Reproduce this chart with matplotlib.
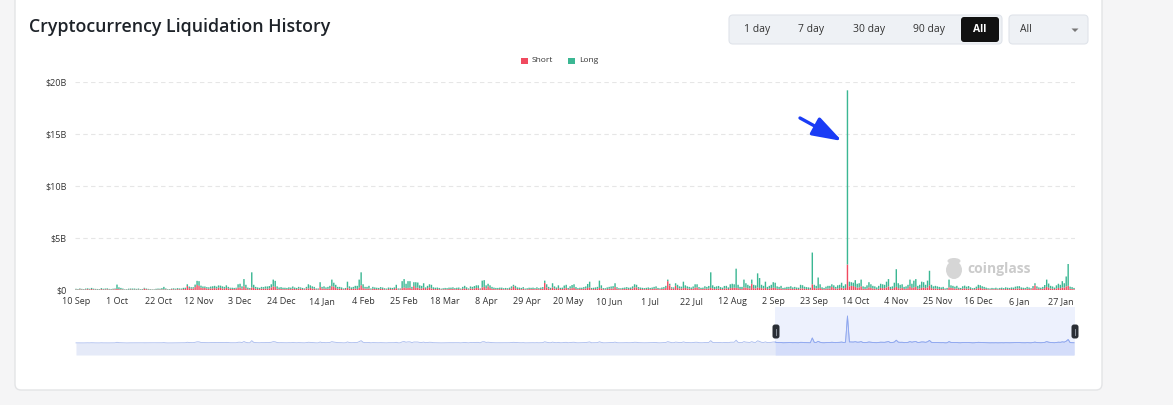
import numpy as np
import matplotlib
matplotlib.use("Agg")
import matplotlib.pyplot as plt
from matplotlib.patches import FancyBboxPatch, Rectangle, Polygon, Ellipse

# ---------------- data ----------------
start_date = "2024-09-10"
tick_labels = ["10 Sep", "1 Oct", "22 Oct", "12 Nov", "3 Dec", "24 Dec", "14 Jan",
               "4 Feb", "25 Feb", "18 Mar", "8 Apr", "29 Apr", "20 May", "10 Jun",
               "1 Jul", "22 Jul", "12 Aug", "2 Sep", "23 Sep", "14 Oct", "4 Nov",
               "25 Nov", "16 Dec", "6 Jan", "27 Jan"]
tick_step = 21
y_ticks = [0, 5, 10, 15, 20]
y_tick_labels = ["$0", "$5B", "$10B", "$15B", "$20B"]
series_names = ["Short", "Long"]
range_buttons = ["1 day", "7 day", "30 day", "90 day", "All"]
selected_range = "All"
dropdown_value = "All"
zoom_window_start = 358   # index where the data-zoom selection starts

# daily liquidations in units of $10M (one row per month)
short_vals = [
    5, 4, 7, 5, 4, 6, 8, 5, 9, 6, 5, 4, 4, 8, 5, 6, 7, 5, 4, 6, 7,                          # Sep 24
    10, 8, 6, 5, 3, 3, 4, 6, 4, 5, 4, 5, 3, 4, 14, 8, 5, 4, 3, 3, 4, 5, 5, 6, 5, 6, 3, 4, 8, 6, 5,  # Oct
    8, 7, 6, 9, 10, 38, 18, 15, 14, 28, 48, 40, 22, 18, 20, 14, 12, 15, 16, 18, 14, 22, 20, 15, 12, 20, 14, 12, 10, 9,  # Nov
    12, 22, 25, 14, 35, 18, 8, 7, 25, 20, 12, 10, 9, 13, 12, 14, 12, 16, 25, 35, 30, 12, 8, 10, 8, 9, 8, 10, 9, 14, 10,  # Dec
    9, 14, 12, 9, 7, 16, 15, 20, 14, 12, 7, 6, 28, 14, 14, 11, 12, 14, 36, 32, 20, 12, 12, 10, 7, 9, 22, 14, 10, 12, 15,  # Jan 25
    10, 22, 45, 18, 14, 12, 15, 5, 12, 10, 9, 8, 12, 10, 7, 6, 10, 9, 8, 10, 18, 5, 6, 18, 25, 18, 20, 22,  # Feb
    12, 38, 20, 22, 15, 14, 22, 10, 18, 25, 15, 10, 9, 10, 8, 6, 7, 8, 7, 10, 9, 12, 8, 9, 10, 6, 12, 15, 10, 6, 14,  # Mar
    12, 14, 20, 18, 6, 25, 30, 16, 35, 20, 12, 10, 8, 8, 9, 10, 7, 8, 7, 9, 15, 35, 18, 10, 9, 8, 12, 6, 7, 9,  # Apr
    9, 10, 8, 12, 8, 10, 12, 68, 25, 12, 9, 25, 15, 10, 18, 9, 10, 15, 20, 8, 14, 18, 22, 10, 8, 10, 9, 12, 14, 20, 25,  # May
    8, 9, 10, 12, 20, 15, 8, 7, 10, 12, 14, 15, 28, 12, 8, 7, 9, 10, 12, 9, 10, 15, 25, 25, 12, 10, 9, 8, 9, 10,  # Jun
    8, 10, 12, 15, 9, 7, 10, 12, 20, 85, 45, 15, 12, 40, 20, 15, 14, 18, 20, 15, 12, 10, 14, 22, 25, 12, 9, 10, 14, 12, 15,  # Jul
    20, 15, 10, 12, 14, 10, 9, 14, 16, 10, 18, 20, 22, 20, 18, 10, 9, 25, 22, 18, 15, 60, 18, 15, 25, 20, 18, 14, 20, 10, 14,  # Aug
    18, 22, 20, 12, 10, 14, 8, 9, 10, 12, 14, 10, 12, 10, 9, 15, 16, 12, 10, 9, 8, 55, 20, 14, 18, 20, 10, 8, 12, 14,  # Sep
    15, 30, 18, 12, 15, 18, 22, 14, 20, 245, 35, 40, 38, 30, 22, 25, 35, 12, 10, 15, 25, 20, 14, 12, 8, 12, 20, 18, 18, 25, 35,  # Oct
    10, 12, 20, 30, 18, 15, 20, 10, 12, 18, 35, 20, 25, 30, 12, 15, 20, 25, 18, 25, 45, 18, 12, 15, 12, 10, 9, 10, 6, 7,  # Nov
    25, 20, 18, 12, 15, 9, 8, 14, 16, 12, 14, 10, 7, 8, 12, 18, 20, 14, 12, 9, 7, 6, 8, 7, 9, 6, 8, 9, 7, 10, 9,  # Dec
    8, 10, 9, 12, 14, 15, 10, 9, 8, 12, 10, 7, 18, 45, 15, 10, 9, 12, 18, 30, 22, 14, 12, 9, 15, 20, 18, 25, 22, 35, 40,  # Jan 26
    12, 10, 8,                                                                                # Feb
]
long_vals = [
    7, 6, 8, 6, 5, 8, 8, 7, 11, 7, 6, 6, 5, 10, 7, 8, 9, 6, 6, 7, 8,
    42, 18, 14, 9, 4, 5, 9, 8, 10, 9, 7, 9, 5, 6, 7, 6, 6, 5, 4, 4, 8, 9, 8, 12, 25, 9, 5, 5, 6, 10, 8,
    10, 8, 8, 12, 12, 17, 15, 12, 13, 24, 40, 45, 20, 16, 14, 14, 14, 18, 20, 22, 18, 22, 22, 20, 18, 25, 16, 10, 12, 11,
    10, 33, 35, 21, 70, 32, 15, 12, 145, 30, 18, 15, 12, 17, 16, 20, 22, 22, 30, 65, 58, 23, 16, 18, 14, 13, 12, 16, 14, 20, 14,
    11, 16, 13, 11, 8, 14, 40, 25, 21, 18, 8, 9, 47, 16, 21, 14, 18, 26, 64, 38, 30, 18, 18, 15, 8, 11, 58, 21, 15, 18, 25,
    30, 78, 125, 37, 16, 18, 25, 10, 18, 15, 13, 12, 16, 14, 10, 8, 14, 13, 12, 15, 32, 10, 9, 67, 80, 42, 65, 63,
    18, 37, 55, 50, 30, 26, 43, 15, 22, 30, 35, 16, 13, 14, 12, 7, 10, 12, 11, 13, 14, 14, 10, 13, 14, 8, 18, 25, 16, 9, 20,
    18, 24, 25, 27, 9, 65, 65, 29, 25, 25, 18, 13, 12, 12, 14, 13, 10, 12, 10, 14, 20, 15, 22, 15, 14, 12, 16, 8, 10, 13,
    12, 13, 10, 14, 10, 13, 16, 22, 30, 18, 12, 40, 20, 14, 27, 12, 13, 28, 30, 12, 22, 30, 33, 18, 10, 12, 13, 16, 20, 38, 55,
    12, 13, 15, 18, 70, 30, 10, 10, 15, 18, 20, 22, 37, 15, 10, 10, 12, 14, 16, 13, 14, 20, 30, 25, 16, 14, 12, 10, 12, 15,
    12, 14, 18, 20, 11, 9, 14, 16, 20, 15, 15, 12, 13, 25, 30, 20, 18, 62, 25, 20, 18, 14, 20, 33, 30, 16, 12, 13, 22, 18, 24,
    150, 30, 20, 23, 25, 18, 14, 25, 24, 15, 37, 40, 33, 185, 32, 20, 21, 75, 43, 32, 25, 40, 32, 30, 135, 95, 32, 26, 60, 20, 26,
    32, 53, 50, 23, 20, 26, 12, 14, 20, 18, 22, 15, 18, 14, 13, 35, 30, 20, 18, 16, 14, 305, 30, 26, 102, 35, 16, 12, 20, 26,
    25, 25, 27, 18, 30, 32, 48, 26, 35, 1675, 45, 35, 32, 65, 38, 40, 65, 23, 20, 30, 50, 35, 26, 23, 17, 28, 40, 37, 32, 55, 70,
    20, 23, 50, 170, 47, 35, 35, 20, 23, 32, 65, 40, 65, 75, 28, 35, 60, 50, 32, 65, 140, 32, 23, 25, 23, 20, 16, 20, 9, 13,
    75, 25, 22, 20, 25, 13, 12, 22, 26, 20, 24, 16, 10, 12, 20, 32, 26, 22, 18, 14, 10, 9, 12, 10, 13, 9, 12, 14, 11, 16, 13,
    12, 15, 14, 20, 22, 22, 15, 13, 12, 18, 14, 10, 20, 20, 20, 15, 13, 18, 30, 70, 40, 26, 22, 14, 30, 40, 32, 60, 43, 95, 210,
    20, 18, 12,
]

# ---------------- style ----------------
W, H = 1173, 405
RED = "#f04a5f"
GREEN = "#3bb793"
TXT = "#333333"
FONT = ["Open Sans", "DejaVu Sans"]
plt.rcParams["font.family"] = FONT

fig = plt.figure(figsize=(W / 100, H / 100), dpi=100)
fig.patch.set_facecolor("#f5f5f6")

# pixel-coordinate background overlay
bg = fig.add_axes([0, 0, 1, 1], zorder=0)
bg.set_xlim(0, W)
bg.set_ylim(H, 0)
bg.axis("off")

bg.add_patch(FancyBboxPatch((15, -20), 1087, 410, boxstyle="round,pad=0,rounding_size=6",
                            fc="white", ec="#e3e4e6", lw=1))
bg.text(29, 27, "Cryptocurrency Liquidation History", fontsize=12.8, fontweight="semibold",
        color="#1e2329", va="center", ha="left")

# range buttons
bg.add_patch(FancyBboxPatch((729, 15), 273, 29, boxstyle="round,pad=0,rounding_size=4",
                            fc="#eef1f5", ec="#e0e4ea", lw=0.8))
btn_x = [757, 811, 869, 929, 980]
for bx, lab in zip(btn_x, range_buttons):
    if lab == selected_range:
        bg.add_patch(FancyBboxPatch((961, 17), 38, 25, boxstyle="round,pad=0,rounding_size=3",
                                    fc="#111111", ec="none"))
        bg.text(bx, 29.5, lab, fontsize=7.5, color="white", fontweight="bold", ha="center", va="center")
    else:
        bg.text(bx, 29.5, lab, fontsize=7.5, color=TXT, ha="center", va="center")
bg.add_patch(FancyBboxPatch((1009, 15), 79, 29, boxstyle="round,pad=0,rounding_size=4",
                            fc="#eef1f5", ec="#e0e4ea", lw=0.8))
bg.text(1020, 29.5, dropdown_value, fontsize=7.5, color=TXT, ha="left", va="center")
bg.add_patch(Polygon([[1071.5, 28.5], [1078.5, 28.5], [1075, 32]], closed=True, fc="#777777", ec="none"))

# legend
bg.add_patch(Rectangle((521, 57.5), 6.5, 6.5, fc=RED, ec="none"))
bg.text(532, 61, series_names[0], fontsize=6, color=TXT, va="center", ha="left")
bg.add_patch(Rectangle((568, 57.5), 6.5, 6.5, fc=GREEN, ec="none"))
bg.text(579, 61, series_names[1], fontsize=6, color=TXT, va="center", ha="left")

# watermark
bg.add_patch(Ellipse((954, 270), 16, 18, fc="#d6d6d6", ec="none"))
bg.add_patch(Ellipse((954, 261), 13, 6, fc="#d6d6d6", ec="none"))
bg.text(967, 269, "coinglass", fontsize=10, color="#cbcbcb", fontweight="bold", va="center", ha="left")

# ---------------- main chart ----------------
N = len(short_vals)
x = np.arange(N)
short = np.array(short_vals) / 100.0
long_ = np.array(long_vals) / 100.0
total = short + long_

ax = fig.add_axes([75 / W, 1 - 290 / H, 1000 / W, 208 / H], zorder=1)
ax.set_facecolor("none")
ax.set_xlim(-0.5, N - 0.5)
ax.set_ylim(0, 20)
for v in y_ticks[1:]:
    ax.axhline(v, color="#e6e6e6", lw=0.8, ls=(0, (4, 3)), zorder=0)
ax.axhline(0, color="#dcdcdc", lw=0.8, zorder=1)
b1 = ax.bar(x, short, width=0.72, color=RED, linewidth=0, zorder=2)
b2 = ax.bar(x, long_, bottom=short, width=0.72, color=GREEN, linewidth=0, zorder=2)
for r in list(b1) + list(b2):
    r.set_snap(False)
    r.set_antialiased(True)
ax.set_yticks(y_ticks, y_tick_labels)
ax.set_xticks(np.arange(len(tick_labels)) * tick_step, tick_labels)
ax.tick_params(axis="y", length=0, labelsize=6.5, colors=TXT, pad=6)
ax.tick_params(axis="x", length=0, labelsize=6.5, colors=TXT, pad=5)
for s in ax.spines.values():
    s.set_visible(False)

# ---------------- data-zoom minimap ----------------
mm = fig.add_axes([75 / W, 1 - 355 / H, 1000 / W, 48 / H], zorder=1)
mm.set_xlim(-0.5, N - 0.5)
lo, hi = -8.5, 25.6
mm.set_ylim(lo, hi)
mm.axis("off")
mm.fill_between(x, total, lo, color="#e5eaf8", lw=0, zorder=1)
mm.plot(x, total, color="#a9bbee", lw=0.6, zorder=2)
mm.axvspan(zoom_window_start, N - 0.5, color="#edf1fd", lw=0, zorder=0)
sel = x >= zoom_window_start
mm.fill_between(x[sel], total[sel], lo, color="#d4ddfa", lw=0, zorder=1)
mm.plot(x[sel], total[sel], color="#8da6f0", lw=0.6, zorder=2)

# ---------------- foreground overlay ----------------
fg = fig.add_axes([0, 0, 1, 1], zorder=5)
fg.set_xlim(0, W)
fg.set_ylim(H, 0)
fg.axis("off")
fg.set_facecolor("none")
for hx in (776, 1075):
    fg.add_patch(FancyBboxPatch((hx - 3.5, 324.5), 7, 14, boxstyle="round,pad=0,rounding_size=2.5",
                                fc="#2a2e35", ec="none"))
    fg.plot([hx, hx], [328.5, 334.5], color="#9aa0aa", lw=0.6)
fg.annotate("", xy=(842, 141), xytext=(800, 118),
            arrowprops=dict(arrowstyle="-|>,head_length=0.9,head_width=0.3", color="#1a3cf5",
                            lw=2.4, mutation_scale=20, shrinkA=0, shrinkB=0))

fig.savefig("out.png", dpi=100)
